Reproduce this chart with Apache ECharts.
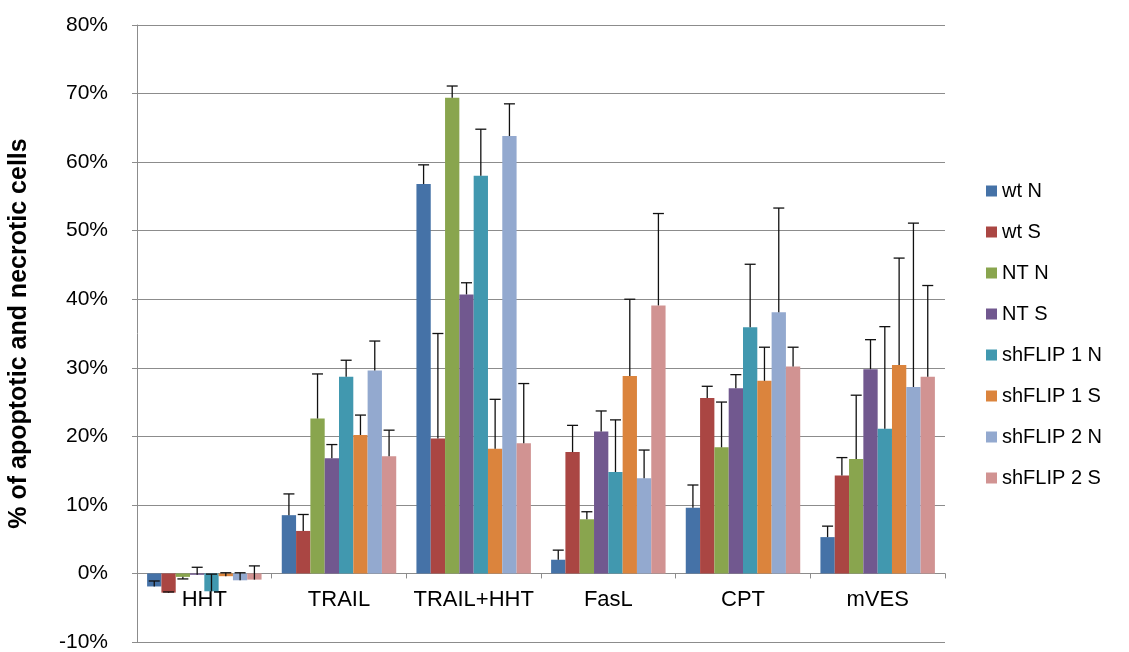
<!DOCTYPE html>
<html>
<head>
<meta charset="utf-8">
<script src="https://cdn.jsdelivr.net/npm/echarts@6/dist/echarts.min.js"></script>
<style>
  html, body { margin: 0; padding: 0; background: #fff; }
  #chart { width: 1129px; height: 652px; }
</style>
</head>
<body>
<div id="chart"></div>
<script>
// Treatments along the x axis
const categories = ['HHT', 'TRAIL', 'TRAIL+HHT', 'FasL', 'CPT', 'mVES'];

// Cell lines / conditions
const seriesNames = ['wt N', 'wt S', 'NT N', 'NT S', 'shFLIP 1 N', 'shFLIP 1 S', 'shFLIP 2 N', 'shFLIP 2 S'];

// Mean % of apoptotic and necrotic cells, one list per condition (order of categories)
const wtN      = [-1.9,  8.5, 56.8,  2.0,  9.6,  5.3];
const wtS      = [-2.8,  6.2, 19.7, 17.7, 25.6, 14.3];
const ntN      = [-0.5, 22.6, 69.4,  7.9, 18.4, 16.7];
const ntS      = [-0.2, 16.8, 40.7, 20.7, 27.0, 29.8];
const sh1N     = [-2.6, 28.7, 58.0, 14.8, 35.9, 21.1];
const sh1S     = [-0.4, 20.2, 18.2, 28.8, 28.1, 30.4];
const sh2N     = [-1.0, 29.6, 63.8, 13.9, 38.1, 27.2];
const sh2S     = [-0.9, 17.1, 19.0, 39.1, 30.2, 28.7];

// Error bar lengths (drawn from the bar end)
const wtNErr   = [0.8, 3.1,  2.8,  1.4,  3.3,  1.6];
const wtSErr   = [0.1, 2.4, 15.3,  3.9,  1.7,  2.6];
const ntNErr   = [-0.3, 6.5, 1.7,  1.1,  6.6,  9.3];
const ntSErr   = [1.1, 2.0,  1.7,  3.0,  2.0,  4.3];
const sh1NErr  = [2.5, 2.4,  6.8,  7.6,  9.2, 14.9];
const sh1SErr  = [0.5, 2.9,  7.2, 11.2,  4.9, 15.6];
const sh2NErr  = [1.1, 4.3,  4.7,  4.1, 15.2, 23.9];
const sh2SErr  = [2.0, 3.8,  8.7, 13.4,  2.8, 13.3];

// Y axis tick range (percent)
const yMin = -10, yMax = 80, yStep = 10;

const means  = [wtN, wtS, ntN, ntS, sh1N, sh1S, sh2N, sh2S];
const errors = [wtNErr, wtSErr, ntNErr, ntSErr, sh1NErr, sh1SErr, sh2NErr, sh2SErr];
const colors = ['#4572A7', '#AA4643', '#89A54E', '#71588F', '#4198AF', '#DB843D', '#93A9CF', '#D19392'];

const FONT = '"Liberation Sans", Arial, sans-serif';
const GAP_RATIO = 0.15; // space between category groups

const barSeries = seriesNames.map((name, i) => ({
  name: name,
  type: 'bar',
  data: means[i],
  barGap: '0%',
  barCategoryGap: (GAP_RATIO * 100) + '%',
  itemStyle: { color: colors[i] },
  emphasis: { disabled: true },
  z: 2
}));

// Error bars: [category, mean, mean + err, series index]
const errData = [];
means.forEach((vals, s) => {
  vals.forEach((v, c) => errData.push([c, v, v + errors[s][c], s]));
});

const errorSeries = {
  type: 'custom',
  name: 'err',
  data: errData,
  z: 5,
  silent: true,
  encode: { x: 0, y: [1, 2] },
  renderItem: function (params, api) {
    const c = api.value(0);
    const s = api.value(3);
    const band = api.size([1, 0])[0];
    const barW = band * (1 - GAP_RATIO) / seriesNames.length;
    const base = api.coord([c, api.value(1)]);
    const top = api.coord([c, api.value(2)]);
    const x = base[0] + (s - (seriesNames.length - 1) / 2) * barW;
    const half = 5.5;
    const style = { stroke: '#111', lineWidth: 1.3 };
    return {
      type: 'group',
      children: [
        { type: 'line', shape: { x1: x, y1: base[1], x2: x, y2: top[1] }, style: style },
        { type: 'line', shape: { x1: x - half, y1: top[1], x2: x + half, y2: top[1] }, style: style }
      ]
    };
  }
};

const chart = echarts.init(document.getElementById('chart'), null, { renderer: 'canvas' });
chart.setOption({
  animation: false,
  backgroundColor: '#fff',
  textStyle: { fontFamily: FONT },
  grid: { left: 137, right: 184, top: 25, bottom: 10, containLabel: false, outerBoundsMode: 'none' },
  legend: {
    data: seriesNames,
    orient: 'vertical',
    left: 981,
    top: 176,
    icon: 'rect',
    itemWidth: 11,
    itemHeight: 11,
    itemGap: 21,
    textStyle: { fontFamily: FONT, fontSize: 20, color: '#000' }
  },
  xAxis: {
    type: 'category',
    data: categories,
    axisLine: { onZero: true, lineStyle: { color: '#8c8c8c', width: 1 } },
    axisTick: { show: true, alignWithLabel: false, length: 5, lineStyle: { color: '#8c8c8c' } },
    axisLabel: { color: '#000', fontSize: 22, fontFamily: FONT, margin: -53, interval: 0, hideOverlap: false },
    splitLine: { show: false }
  },
  yAxis: {
    type: 'value',
    min: yMin,
    max: yMax,
    interval: yStep,
    name: '% of apoptotic and necrotic cells',
    nameLocation: 'middle',
    nameRotate: 90,
    nameGap: 105,
    nameTextStyle: { fontFamily: FONT, fontSize: 25, fontWeight: 'bold', color: '#000' },
    axisLine: { show: true, lineStyle: { color: '#8c8c8c', width: 1 } },
    axisTick: { show: true, length: 5, lineStyle: { color: '#8c8c8c' } },
    axisLabel: { color: '#000', fontSize: 21, fontFamily: FONT, margin: 29, formatter: '{value}%' },
    splitLine: { show: true, lineStyle: { color: '#8c8c8c', width: 1 } }
  },
  series: barSeries.concat([errorSeries])
});
</script>
</body>
</html>
